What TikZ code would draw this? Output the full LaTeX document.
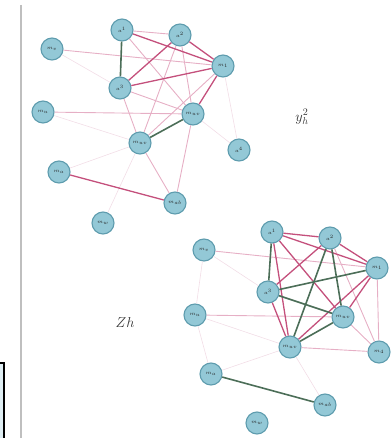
\documentclass[tikz,border=0pt]{standalone}
\begin{document}
\begin{tikzpicture}[x=1pt,y=-1pt,
  nd/.style={circle,minimum size=22pt,inner sep=0pt,fill=nodefill,draw=nodeline,line width=1.1pt,font=\fontsize{5}{5}\selectfont,text=black!85},
  strong/.style={draw=edgegreen,line width=1.6pt},
  red/.style={draw=edgered,line width=1.3pt},
  pink/.style={draw=edgepink,line width=0.9pt},
  faint/.style={draw=edgefaint,line width=0.6pt},
  lbl/.style={font=\Large,text=black!80}]
\definecolor{nodefill}{HTML}{93C8D6}
\definecolor{nodeline}{HTML}{5E9CAE}
\definecolor{edgegreen}{HTML}{4C6E58}
\definecolor{edgered}{HTML}{C4507C}
\definecolor{edgepink}{HTML}{E6AFC5}
\definecolor{edgefaint}{HTML}{F2DDE6}
\useasboundingbox (0,0) rectangle (391,438);
% frame pieces
\draw[black!25,line width=1.5pt] (21,5) -- (21,438);
\draw[black,line width=1.2pt,fill=nodefill!30] (-10,363) rectangle (4,445);
% top graph nodes
\node[nd] (A) at (122,30) {$a^1$};
\node[nd] (B) at (180,35) {$a^2$};
\node[nd] (C) at (223,66) {$m_1$};
\node[nd] (D) at (52,49) {$m_v$};
\node[nd] (E) at (120,88) {$a^3$};
\node[nd] (F) at (43,112) {$m_u$};
\node[nd] (G) at (193,114) {$m_{uv}$};
\node[nd] (H) at (140,143) {$m_{uv}$};
\node[nd] (I) at (239,150) {$a^4$};
\node[nd] (J) at (59,172) {$m_a$};
\node[nd] (K) at (175,203) {$m_{ab}$};
\node[nd] (L) at (103,223) {$m_w$};
\node[lbl] (y) at (302,117) {$y_h^2$};
% bottom graph nodes
\node[nd] (M) at (204,250) {$m_v$};
\node[nd] (N) at (272,232) {$a^1$};
\node[nd] (O) at (330,238) {$a^2$};
\node[nd] (P) at (377,268) {$m_1$};
\node[nd] (Q) at (268,292) {$a^3$};
\node[nd] (R) at (195,315) {$m_u$};
\node[nd] (S) at (343,317) {$m_{uv}$};
\node[nd] (T) at (290,347) {$m_{uv}$};
\node[nd] (U) at (379,352) {$m_4$};
\node[nd] (V) at (211,374) {$m_a$};
\node[nd] (W) at (325,405) {$m_{ab}$};
\node[nd] (X) at (257,423) {$m_w$};
\node[lbl] (z) at (125,322) {$Zh$};
% top edges
\draw[faint] (D) -- (E); \draw[faint] (F) -- (H); \draw[faint] (J) -- (H);
\draw[faint] (C) -- (I); \draw[faint] (G) -- (I); \draw[faint] (H) -- (L);
\draw[pink] (D) -- (C);
\draw[pink] (F) -- (G);
\draw[pink] (A) -- (B);
\draw[pink] (E) -- (G);
\draw[pink] (E) -- (H);
\draw[pink] (B) -- (H);
\draw[pink] (B) -- (G);
\draw[pink] (C) -- (H);
\draw[pink] (A) -- (G);
\draw[pink] (G) -- (K);
\draw[pink] (H) -- (K);
\draw[red] (A) -- (C);
\draw[red] (B) -- (E);
\draw[red] (E) -- (C);
\draw[red] (B) -- (C);
\draw[red] (C) -- (G);
\draw[red] (J) -- (K);
\draw[strong] (A) -- (E);
\draw[strong] (G) -- (H);
% bottom edges
\draw[faint] (M) -- (Q); \draw[faint] (R) -- (T); \draw[faint] (V) -- (T);
\draw[faint] (M) -- (R); \draw[faint] (T) -- (W); \draw[faint] (R) -- (V);
\draw[pink] (M) -- (P);
\draw[pink] (R) -- (S);
\draw[pink] (T) -- (U);
\draw[pink] (S) -- (U);
\draw[pink] (P) -- (U);
\draw[pink] (O) -- (U);
\draw[red] (N) -- (O);
\draw[red] (N) -- (P);
\draw[red] (N) -- (S);
\draw[red] (N) -- (T);
\draw[red] (O) -- (Q);
\draw[red] (O) -- (P);
\draw[red] (Q) -- (T);
\draw[red] (T) -- (P);
\draw[red] (S) -- (P);
\draw[strong] (N) -- (Q);
\draw[strong] (O) -- (T);
\draw[strong] (O) -- (S);
\draw[strong] (Q) -- (P);
\draw[strong] (Q) -- (S);
\draw[strong] (T) -- (S);
\draw[strong] (V) -- (W);
\end{tikzpicture}
\end{document}
